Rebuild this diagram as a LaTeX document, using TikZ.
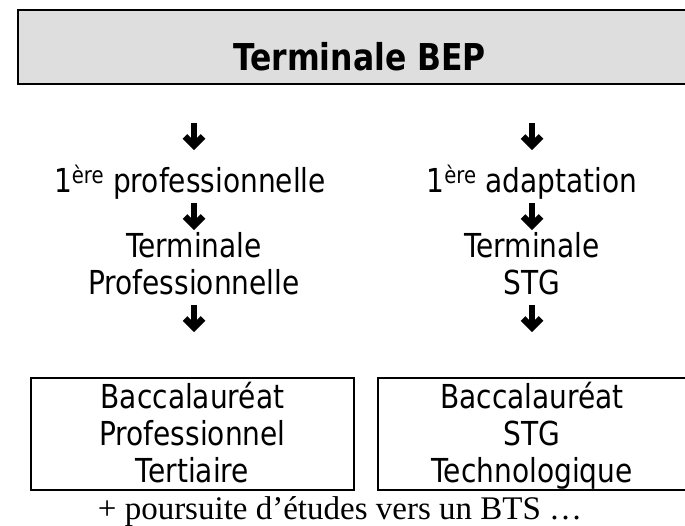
\documentclass[tikz,border=0pt]{standalone}
\usepackage{fontspec}
\setmainfont[FakeStretch=0.85]{DejaVu Sans}
\newfontfamily\notefont{Liberation Serif}
\definecolor{boxgray}{HTML}{DEDEDE}
\begin{document}
\begin{tikzpicture}[x=1pt,y=-1pt,
  titlebox/.style={draw=black,line width=1.8pt,fill=boxgray},
  resultbox/.style={draw=black,line width=1.4pt},
  titletext/.style={font=\bfseries\fontsize{37}{40}\selectfont,inner sep=0pt,anchor=base},
  body/.style={font=\fontsize{33}{36}\selectfont,inner sep=0pt,anchor=base},
  notetext/.style={font=\notefont\fontsize{33}{36}\selectfont,inner sep=0pt,anchor=base},
  bigarrow/.pic={
    \draw[line width=6.5pt,line cap=butt] (0,-27) -- (0,-7);
    \draw[line width=6.5pt,line join=miter,line cap=butt] (-9,-13.5) -- (0,-4.5) -- (9,-13.5);
  }]
\useasboundingbox (0,0) rectangle (685,526);
\clip (0,0) rectangle (685,526);
% top box
\draw[titlebox] (18,10) rectangle (701,84);
\node[titletext] (title) at (359.5,71) {Terminale BEP};
% left column
\coordinate (la1) at (194,150);
\coordinate (la2) at (194,230);
\coordinate (la3) at (194,332);
\pic at (la1) {bigarrow};
\node[body] (l1) at (190,193) {1\textsuperscript{ère} professionnelle};
\pic at (la2) {bigarrow};
\node[body] (l2) at (194,258) {Terminale};
\node[body] (l3) at (194,295) {Professionnelle};
\pic at (la3) {bigarrow};
% right column
\coordinate (ra1) at (532,150);
\coordinate (ra2) at (532,230);
\coordinate (ra3) at (532,332);
\pic at (ra1) {bigarrow};
\node[body] (r1) at (532,193) {1\textsuperscript{ère} adaptation};
\pic at (ra2) {bigarrow};
\node[body] (r2) at (532,258) {Terminale};
\node[body] (r3) at (532,295) {STG};
\pic at (ra3) {bigarrow};
% result boxes
\draw[resultbox] (31,378) rectangle (354,490);
\draw[resultbox] (378,378) rectangle (686,490);
\node[body] (b1) at (192.5,408) {Baccalauréat};
\node[body] (b2) at (192.5,445) {Professionnel};
\node[body] (b3) at (192.5,482) {Tertiaire};
\node[body] (c1) at (532,408) {Baccalauréat};
\node[body] (c2) at (532,445) {STG};
\node[body] (c3) at (532,482) {Technologique};
% note
\node[notetext] (note) at (340,519) {+ poursuite d’études vers un BTS …};
\end{tikzpicture}
\end{document}
